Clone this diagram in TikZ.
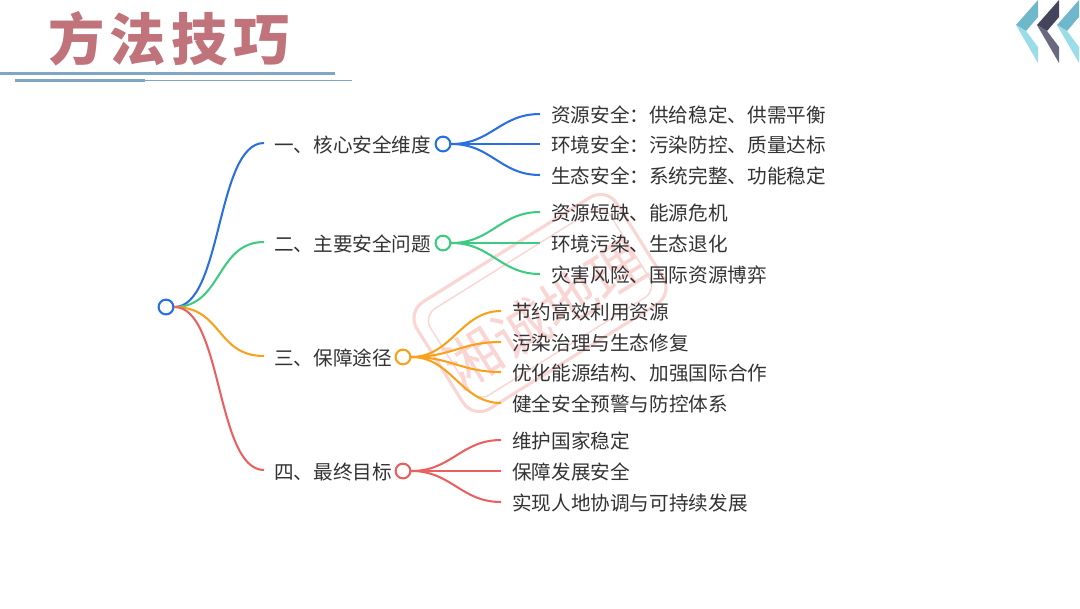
\documentclass[tikz,border=0pt]{standalone}
\usepackage{fontspec}
\setmainfont{Noto Sans CJK SC}
\usetikzlibrary{positioning}
\definecolor{cblue}{HTML}{2A6FE0}
\definecolor{cgreen}{HTML}{3CCB7F}
\definecolor{corange}{HTML}{F9A11B}
\definecolor{cred}{HTML}{EC5F5F}
\definecolor{ctitle}{HTML}{C0737A}
\definecolor{crule}{HTML}{7FA6C4}
\definecolor{cmark}{HTML}{F9D6D4}
\tikzset{
  txt/.style={font=\fontsize{13.95pt}{16pt}\selectfont,text=black!80,inner sep=0pt,anchor=west},
  hub/.style={circle,draw=#1,fill=white,line width=1.5pt,minimum size=10.5pt,inner sep=0pt},
  link/.style={draw=#1,line width=1.45pt},
}
\begin{document}
\begin{tikzpicture}[x=0.025cm,y=-0.025cm]
    \useasboundingbox (0,0) rectangle (1080,608);
    \fill[white] (0,0) rectangle (1080,608);
    % watermark
    \begin{scope}[shift={(540,303)},rotate=32]
      \draw[cmark,line width=2.2pt,rounded corners=14pt] (-118,-63) rectangle (118,63);
      \draw[cmark,line width=1pt,rounded corners=10pt] (-106,-51) rectangle (106,51);
    \end{scope}
    \node[cmark,font=\fontsize{40pt}{44pt}\selectfont,rotate=32] (mark) at (545,314) {湘诚地理};
    % title
    \node[ctitle,font=\fontsize{40pt}{44pt}\selectfont\bfseries,anchor=west,inner sep=0pt] (title) at (48,39) {方\hspace{3.8pt}法\hspace{3.8pt}技\hspace{3.8pt}巧};
    \fill[crule] (0,71.5) rectangle (335,74.5);
    \fill[crule] (15,79) rectangle (145,81.5);
    \fill[crule] (145,79.5) rectangle (352,80.5);
    % chevrons
    \foreach \dx/\up/\low in {0/6FB8CC/9ADCE8,21/44445C/68687E,41/6FB8CC/9ADCE8}{
      \definecolor{cup}{HTML}{\up}
      \definecolor{clow}{HTML}{\low}
      \fill[cup] (1016+\dx,25)--(1038+\dx,0)--(1038+\dx,17)--(1026+\dx,31)--cycle;
      \fill[clow] (1016+\dx,25)--(1026+\dx,31)--(1038+\dx,47)--(1038+\dx,63)--cycle;
    }
    % root and branches
    \node[hub=cblue] (root) at (166,307) {};
    \foreach \n/\col/\y/\hx/\txt in {1/cblue/144/443/一、核心安全维度,2/cgreen/243/443/二、主要安全问题,3/corange/357/403/三、保障途径,4/cred/471/403/四、最终目标}{
      \node[txt] (b\n) at (274,\y+1) {\txt};
      \coordinate (e\n) at (264,\y-1);
      \draw[link=\col] (root.east) .. controls +(48,0) and +(-48,0) .. (e\n);
      \node[hub=\col] (h\n) at (\hx,\y) {};
    }
    % leaves
    \foreach \n/\i/\col/\y/\x/\txt in {
      1/1/cblue/115/551/资源安全：供给稳定、供需平衡,
      1/2/cblue/145/551/环境安全：污染防控、质量达标,
      1/3/cblue/176/551/生态安全：系统完整、功能稳定,
      2/1/cgreen/213/551/资源短缺、能源危机,
      2/2/cgreen/244/551/环境污染、生态退化,
      2/3/cgreen/275/551/灾害风险、国际资源博弈,
      3/1/corange/312/512/节约高效利用资源,
      3/2/corange/343/512/污染治理与生态修复,
      3/3/corange/373/512/优化能源结构、加强国际合作,
      3/4/corange/404/512/健全安全预警与防控体系,
      4/1/cred/441/512/维护国家稳定,
      4/2/cred/472/512/保障发展安全,
      4/3/cred/503/512/实现人地协调与可持续发展}{
      \node[txt] (l\n\i) at (\x,\y) {\txt};
      \coordinate (f\n\i) at (\x-11,\y-1);
      \draw[link=\col] (h\n.east) .. controls +(40,0) and +(-40,0) .. (f\n\i);
    }
  \end{tikzpicture}
\end{document}
